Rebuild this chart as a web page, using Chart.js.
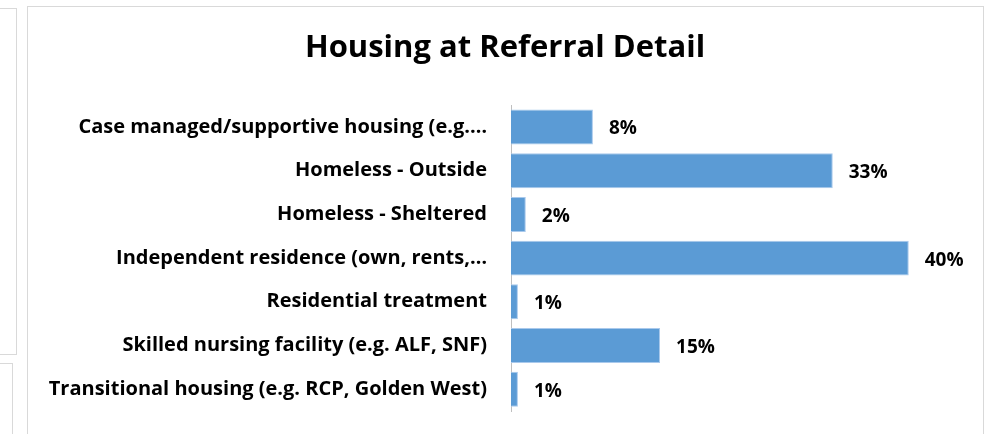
<!DOCTYPE html>
<html>
<head>
<meta charset="utf-8">
<script src="https://cdn.jsdelivr.net/npm/chart.js@4"></script>
<style>
  html, body { margin: 0; padding: 0; background: #fff; }
  body { width: 989px; height: 434px; position: relative; overflow: hidden; }
  .frame { position: absolute; border: 1px solid #d9d9d9; box-sizing: border-box; }
  #wrap { position: absolute; left: 0; top: 0; width: 989px; height: 434px; }
</style>
</head>
<body>
<div class="frame" style="left:-5px; top:8px; width:22px; height:347px;"></div>
<div class="frame" style="left:-5px; top:363px; width:18px; height:80px;"></div>
<div class="frame" style="left:27px; top:6px; width:957px; height:440px;"></div>
<div id="wrap"><canvas id="housing-chart"></canvas></div>
<script>
// Data for the chart
const categories = [
  'Case managed/supportive housing (e.g.\u2026',
  'Homeless - Outside',
  'Homeless - Sheltered',
  'Independent residence (own, rents,\u2026',
  'Residential treatment',
  'Skilled nursing facility (e.g. ALF, SNF)',
  'Transitional housing (e.g. RCP, Golden West)'
];
const shares = [8.3, 32.6, 1.5, 40.3, 0.7, 15.1, 0.7];

const FONT = "'Open Sans', sans-serif";

// percent labels at the end of each bar
const barLabels = {
  id: 'barLabels',
  afterDatasetsDraw(chart) {
    const ctx = chart.ctx;
    const meta = chart.getDatasetMeta(0);
    ctx.save();
    ctx.font = 'bold 19px ' + FONT;
    ctx.fillStyle = '#000';
    ctx.textBaseline = 'middle';
    ctx.textAlign = 'left';
    meta.data.forEach((bar, i) => {
      ctx.fillText(Math.round(shares[i]) + '%', bar.x + 16, bar.y + 2);
    });
    ctx.restore();
  }
};

const ctx = document.getElementById('housing-chart').getContext('2d');

const housingChart = new Chart(ctx, {
  type: 'bar',
  data: {
    labels: categories,
    datasets: [{
      data: shares,
      backgroundColor: '#5b9bd5',
      borderColor: '#a9c9ec',
      borderWidth: 1,
      barPercentage: 0.8,
      categoryPercentage: 1.0
    }]
  },
  options: {
    indexAxis: 'y',
    responsive: true,
    maintainAspectRatio: false,
    animation: false,
    layout: {
      padding: { top: 30, bottom: 23, right: 23, left: 44 }
    },
    plugins: {
      legend: { display: false },
      tooltip: { enabled: false },
      title: {
        display: true,
        text: 'Housing at Referral Detail',
        color: '#000',
        font: { family: FONT, size: 31, weight: 'bold' },
        padding: { top: 0, bottom: 38 }
      }
    },
    scales: {
      x: {
        display: false,
        min: 0,
        max: 46.1
      },
      y: {
        grid: { display: false, drawTicks: false },
        border: { color: '#bfbfbf', width: 1 },
        ticks: {
          color: '#000',
          padding: 24,
          font: { family: FONT, size: 20, weight: 'bold' }
        },
        afterFit(scale) {
          scale.width = 467;
          scale.paddingTop = 0;
          scale.paddingBottom = 0;
        }
      }
    }
  },
  plugins: [barLabels]
});
</script>
</body>
</html>
